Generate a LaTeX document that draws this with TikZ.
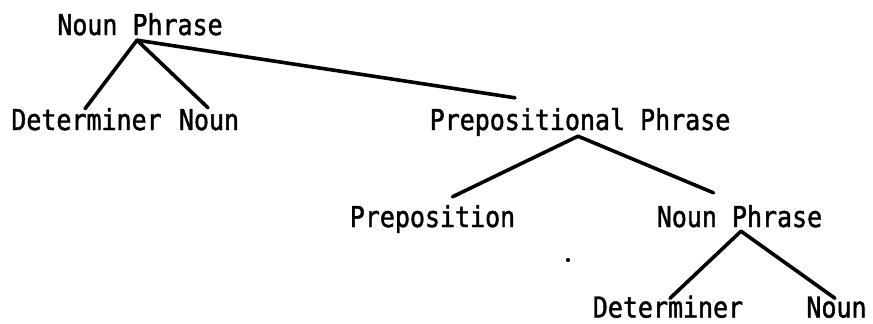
\documentclass[tikz,border=0pt]{standalone}
\usepackage{fontspec}
\newfontfamily\treemono[FakeStretch=0.867,FakeBold=1.5]{DejaVu Sans Mono}
\usetikzlibrary{calc}
\begin{document}
\begin{tikzpicture}[x=1pt,y=-1pt,
  lbl/.style={anchor=base,inner sep=0pt,text height=21pt,text depth=6pt,
    font=\treemono\fontsize{28.8}{30}\selectfont},
  bottomlbl/.style={lbl,text depth=0.5pt},
  branch/.style={line width=3.6pt,line cap=round,line join=round}]
\useasboundingbox (0,0) rectangle (873,324);
\node[lbl] (np1) at (140,35) {Noun Phrase};
\node[lbl] (det1) at (86.5,130) {Determiner};
\node[lbl] (noun1) at (209,130) {Noun};
\node[lbl] (pp) at (580,130) {Prepositional Phrase};
\node[lbl] (prep) at (432.5,227) {Preposition};
\node[lbl] (np2) at (739.5,227) {Noun Phrase};
\node[bottomlbl] (det2) at (668,317.5) {Determiner};
\node[bottomlbl] (noun2) at (836.5,317.5) {Noun};
\draw[branch] ([xshift=-3pt,yshift=1pt]np1.south) -- ([xshift=-1.5pt]det1.north);
\draw[branch] ([xshift=-3pt,yshift=1pt]np1.south) -- ([xshift=-1pt,yshift=1pt]noun1.north);
\draw[branch] ([xshift=-3pt,yshift=1pt]np1.south) -- ([xshift=-65pt,yshift=11pt]pp.north);
\draw[branch] ([xshift=-2pt]pp.south) -- ([xshift=20pt,yshift=9pt]prep.north);
\draw[branch] ([xshift=-2pt]pp.south) -- ([xshift=-26pt,yshift=13pt]np2.north);
\draw[branch] ([xshift=1.5pt,yshift=2pt]np2.south) -- ([xshift=2pt,yshift=-2pt]det2.north);
\draw[branch] ([xshift=1.5pt,yshift=2pt]np2.south) -- ([xshift=-1.5pt,yshift=-2pt]noun2.north);
\fill (568,260) circle (2.1pt);
\end{tikzpicture}
\end{document}
